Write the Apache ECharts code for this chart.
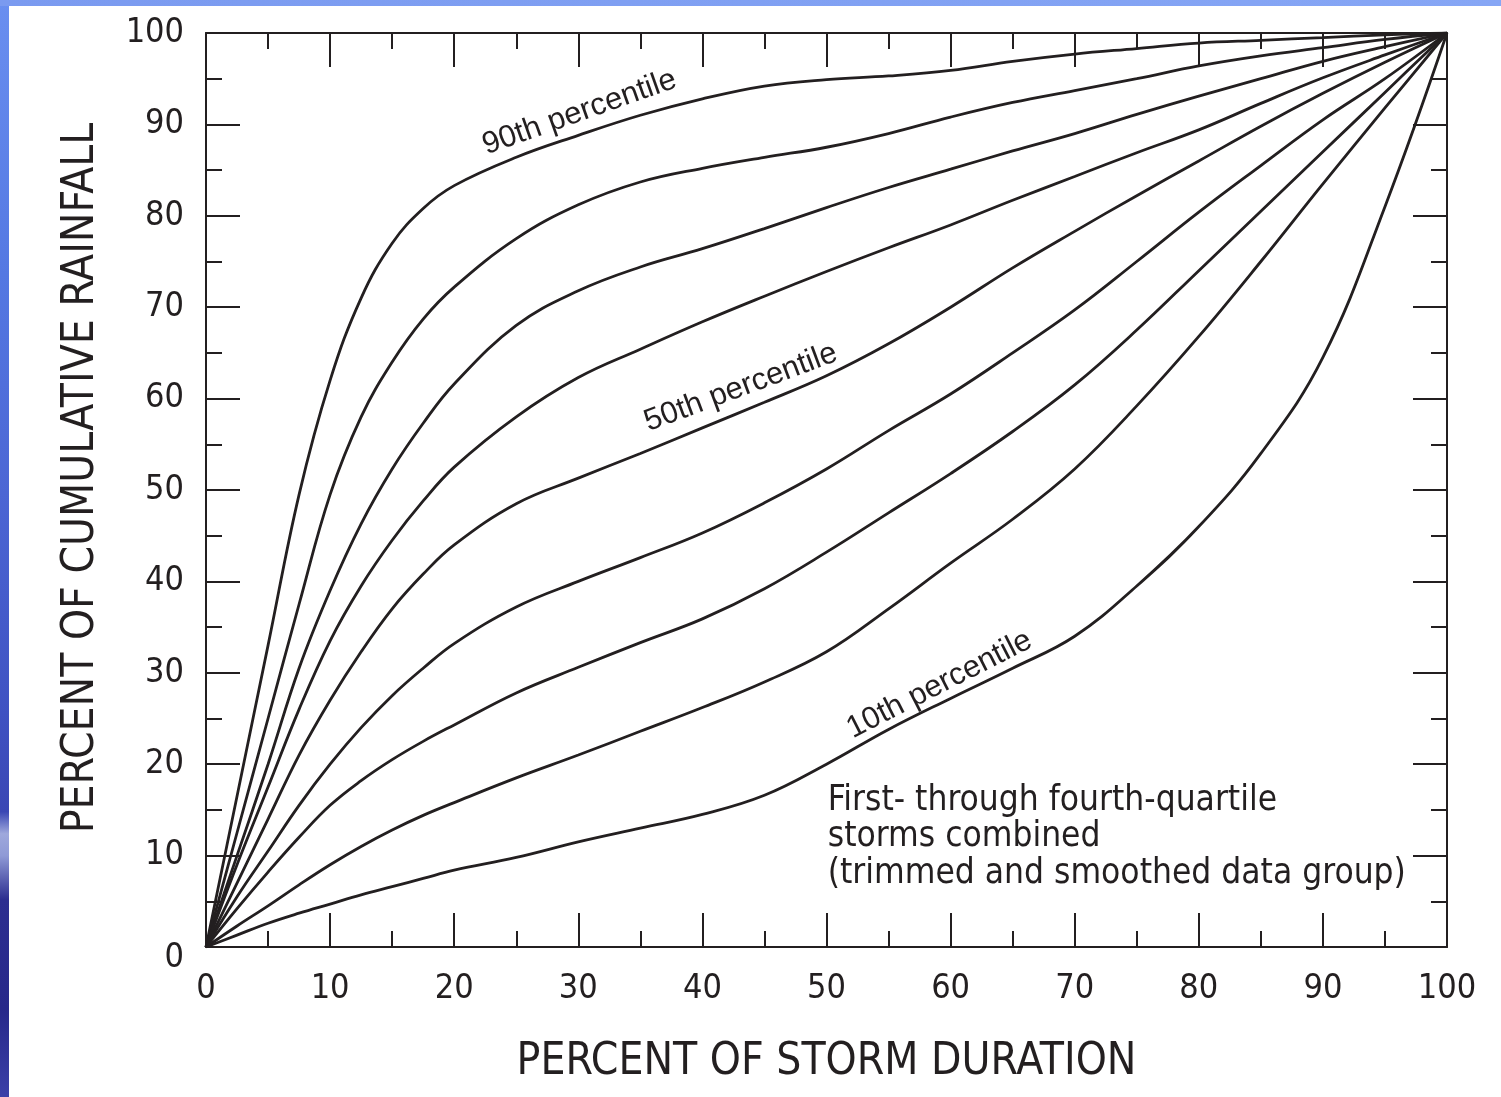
<!DOCTYPE html>
<html>
<head>
<meta charset="utf-8">
<title>Cumulative rainfall distribution</title>
<script src="https://cdn.jsdelivr.net/npm/echarts@6/dist/echarts.min.js"></script>
<style>
  html, body { margin: 0; padding: 0; width: 1501px; height: 1097px; overflow: hidden; }
  body {
    background:
      linear-gradient(to right, #7a9af0, #86a6f5) top left / 100% 6px no-repeat,
      linear-gradient(to bottom, #6a8ff0 0%, #5478e2 25%, #4c66d4 45%, #3f52c2 65%, #3a47b4 74%, #9ea8dc 76%, #8f9ad6 78%, #2c2e90 82%, #27288a 92%, #3b40a8 100%);
  }
  #chart { position: absolute; left: 9px; top: 6px; width: 1492px; height: 1091px; background: #ffffff; }
</style>
</head>
<body>
<div id="chart"></div>
<script>
// Percent of storm duration at which each curve is sampled
const durationPct = [0, 2.5, 5, 7.5, 10, 12.5, 15, 17.5, 20, 25, 30, 35, 40, 45, 50, 55, 60, 65, 70, 75, 80, 85, 90, 95, 100];

// Percent of cumulative rainfall, one curve per percentile
const p90 = [0, 16.5, 33, 49.5, 62, 71, 77, 80.8, 83.3, 86.4, 88.8, 91, 92.8, 94.2, 94.9, 95.3, 95.9, 96.9, 97.7, 98.3, 98.9, 99.2, 99.5, 99.8, 100];
const p80 = [0, 12.5, 25, 37.5, 49.5, 58, 64, 68.7, 72.2, 77.5, 81.2, 83.7, 85.2, 86.4, 87.5, 89, 90.8, 92.4, 93.7, 95, 96.4, 97.5, 98.4, 99.3, 100];
const p70 = [0, 10, 20, 30.5, 39, 46.3, 52.3, 57.3, 61.6, 68, 71.8, 74.4, 76.4, 78.6, 80.9, 83.1, 85.1, 87.1, 89, 91.1, 93.1, 95, 96.9, 98.5, 100];
const p60 = [0, 9, 17.5, 26, 33.5, 39.5, 44.5, 48.8, 52.5, 58, 62.3, 65.4, 68.4, 71.2, 73.9, 76.5, 79, 81.7, 84.3, 86.9, 89.4, 92.3, 95.1, 97.6, 100];
const p50 = [0, 7, 14, 21, 27, 32.3, 37, 40.8, 44, 48.5, 51.3, 54, 56.8, 59.6, 62.5, 66, 70, 74.3, 78.3, 82.2, 86, 89.8, 93.4, 96.8, 100];
const p40 = [0, 5.5, 10.5, 15.5, 20, 24, 27.5, 30.5, 33.2, 37.2, 40, 42.6, 45.3, 48.6, 52.3, 56.5, 60.5, 65, 69.7, 75, 80.4, 85.5, 90.5, 95, 100];
const p30 = [0, 4.2, 8.2, 12, 15.5, 18.2, 20.5, 22.5, 24.3, 27.8, 30.6, 33.3, 35.9, 39.2, 43.2, 47.5, 51.8, 56.4, 61.5, 67.5, 74, 80.5, 87, 93.5, 100];
const p20 = [0, 2.3, 4.5, 6.8, 9, 11, 12.8, 14.4, 15.8, 18.5, 21, 23.6, 26.2, 29, 32.3, 37, 42, 46.8, 52.3, 59.2, 66.8, 75, 83.5, 91.8, 100];
const p10 = [0, 1.3, 2.6, 3.7, 4.7, 5.7, 6.6, 7.5, 8.4, 9.8, 11.5, 13, 14.5, 16.6, 20, 23.8, 27.2, 30.5, 34, 39.5, 46, 54, 64.5, 81, 100];

const curveNames = ['90th percentile', '80th percentile', '70th percentile', '60th percentile', '50th percentile',
                    '40th percentile', '30th percentile', '20th percentile', '10th percentile'];
const curveValues = [p90, p80, p70, p60, p50, p40, p30, p20, p10];

// Curve captions: text, anchor point (duration %, rainfall %) and slope angle
const captionText = ['90th percentile', '50th percentile', '10th percentile'];
const captionAt = [[30.1, 91.3], [43.1, 61.2], [59.1, 28.7]];
const captionAngle = [19.5, 20.5, 27];

// Note in the lower right
const noteLines = ['First- through fourth-quartile', 'storms combined', '(trimmed and smoothed data group)'];
const noteAt = [50.1, 18.0];

const INK = '#231f20';
const NARROW = "'DejaVu Sans Condensed', 'DejaVu Sans', sans-serif";
const REGULAR = "'Liberation Sans', Arial, sans-serif";

const chart = echarts.init(document.getElementById('chart'), null, { renderer: 'canvas' });

function frameAxis(position, showLabels, extra) {
  return Object.assign({
    type: 'value',
    position: position,
    min: 0,
    max: 100,
    interval: 10,
    splitLine: { show: false },
    axisLine: { show: true, onZero: false, lineStyle: { color: INK, width: 2 } },
    axisTick: { show: true, inside: true, length: 34, lineStyle: { color: INK, width: 2 } },
    minorTick: { show: true, splitNumber: 2, length: 16, lineStyle: { color: INK, width: 2 } },
    axisLabel: { show: showLabels }
  }, extra || {});
}

const labelFont = { fontFamily: NARROW, fontSize: 34, color: INK };

const lineSeries = curveValues.map((vals, i) => ({
  name: curveNames[i],
  type: 'line',
  xAxisIndex: 0,
  yAxisIndex: 0,
  data: durationPct.map((d, j) => [d, vals[j]]),
  smooth: 0.4,
  showSymbol: false,
  symbol: 'none',
  silent: true,
  lineStyle: { color: INK, width: 2.8 },
  z: 3
}));

const captionSeries = {
  type: 'scatter',
  xAxisIndex: 0,
  yAxisIndex: 0,
  symbolSize: 0,
  silent: true,
  itemStyle: { opacity: 1, color: 'transparent' },
  data: captionAt.map((p, i) => ({
    value: p,
    label: {
      show: true,
      formatter: captionText[i],
      position: [0, 0],
      align: 'center',
      verticalAlign: 'middle',
      rotate: captionAngle[i],
      fontFamily: REGULAR,
      fontSize: 31,
      color: INK
    }
  })),
  z: 5
};

const noteSeries = {
  type: 'scatter',
  xAxisIndex: 0,
  yAxisIndex: 0,
  symbolSize: 0,
  silent: true,
  itemStyle: { opacity: 1, color: 'transparent' },
  data: [{
    value: noteAt,
    label: {
      show: true,
      formatter: noteLines.join('\n'),
      position: [0, 0],
      align: 'left',
      verticalAlign: 'top',
      fontFamily: NARROW,
      fontSize: 35,
      lineHeight: 36.5,
      color: INK
    }
  }],
  z: 5
};

chart.setOption({
  animation: false,
  backgroundColor: '#ffffff',
  grid: { left: 197, top: 27, width: 1241, height: 914, containLabel: false },
  xAxis: [
    frameAxis('bottom', true, {
      name: 'PERCENT OF STORM DURATION',
      nameLocation: 'middle',
      nameGap: 94,
      nameTextStyle: { fontFamily: NARROW, fontSize: 44, color: INK },
      axisLabel: Object.assign({ show: true, margin: 25 }, labelFont)
    }),
    frameAxis('top', false)
  ],
  yAxis: [
    frameAxis('left', true, {
      name: 'PERCENT OF CUMULATIVE RAINFALL',
      nameLocation: 'middle',
      nameGap: 102,
      nameTextStyle: { fontFamily: NARROW, fontSize: 44, color: INK, padding: [0, 0, 0, 24] },
      axisLabel: Object.assign({
        show: true,
        margin: 22,
        formatter: v => (v === 0 ? '{zero|0}' : String(v)),
        rich: { zero: { fontFamily: NARROW, fontSize: 34, color: INK, padding: [22, 0, 0, 0] } }
      }, labelFont)
    }),
    frameAxis('right', false)
  ],
  series: lineSeries.concat([captionSeries, noteSeries])
});
</script>
</body>
</html>
